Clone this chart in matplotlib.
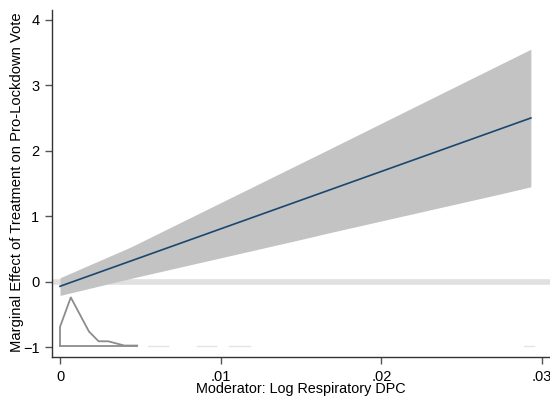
import numpy as np
import matplotlib
matplotlib.use("Agg")
import matplotlib.pyplot as plt

plt.rcParams['font.family'] = ['Liberation Sans', 'DejaVu Sans']

# marginal effect line and confidence band
x_ci = [0.0, 0.0044, 0.0149, 0.0168, 0.0274, 0.0293]
ci_low = [-0.21, 0.05, 0.64, 0.75, 1.34, 1.45]
ci_high = [0.06, 0.53, 1.80, 2.03, 3.32, 3.55]
x_line = [0.0, 0.0293]
y_line = [-0.07, 2.50]

# density of the moderator drawn at the bottom
dens_x = [0.0, 0.0, 0.00067, 0.0018, 0.0024, 0.0030, 0.0040, 0.0048]
dens_y = [-0.975, -0.69, -0.24, -0.76, -0.91, -0.91, -0.975, -0.975]
base_x = [0.0, 0.0048]
base_y = [-0.975, -0.975]
bumps = [(0.0055, 0.0067), (0.0085, 0.0097), (0.0105, 0.0118), (0.0289, 0.0295)]

xticks = [0, 0.01, 0.02, 0.03]
xticklabels = ['0', '.01', '.02', '.03']
yticks = [-1, 0, 1, 2, 3, 4]

fig = plt.figure(figsize=(5.5, 3.98), dpi=100)
ax = fig.add_axes([0.0945, 0.103, 0.9055, 0.872])

ax.axhline(0, color='#e0e0e0', lw=4, zorder=1)
ax.fill_between(x_ci, ci_low, ci_high, color='#c3c3c3', lw=0, zorder=2)
ax.plot(x_line, y_line, color='#1a476f', lw=1.2, zorder=3)

ax.plot(dens_x, dens_y, color='#8c8c8c', lw=1.3, zorder=3)
ax.plot(base_x, base_y, color='#8c8c8c', lw=1.3, zorder=3)
for a, b in bumps:
    ax.plot([a, b], [-0.975, -0.975], color='#e4e4e4', lw=1.0, zorder=3)

ax.set_xlim(-0.0005, 0.03049)
ax.set_ylim(-1.15, 4.15)
ax.set_xticks(xticks)
ax.set_xticklabels(xticklabels)
ax.set_yticks(yticks)

for s in ['top', 'right']:
    ax.spines[s].set_visible(False)
for s in ['left', 'bottom']:
    ax.spines[s].set_color('#333333')
    ax.spines[s].set_linewidth(1.0)
ax.tick_params(direction='out', length=5, width=1, color='#555555',
               labelsize=10.5, pad=4)

ax.set_xlabel('Moderator: Log Respiratory DPC', fontsize=10.4, labelpad=-1)
ax.set_ylabel('Marginal Effect of Treatment on Pro-Lockdown Vote', fontsize=10.6)
ax.yaxis.set_label_coords(-0.056, 0.504)

fig.savefig('out.png', dpi=100)
